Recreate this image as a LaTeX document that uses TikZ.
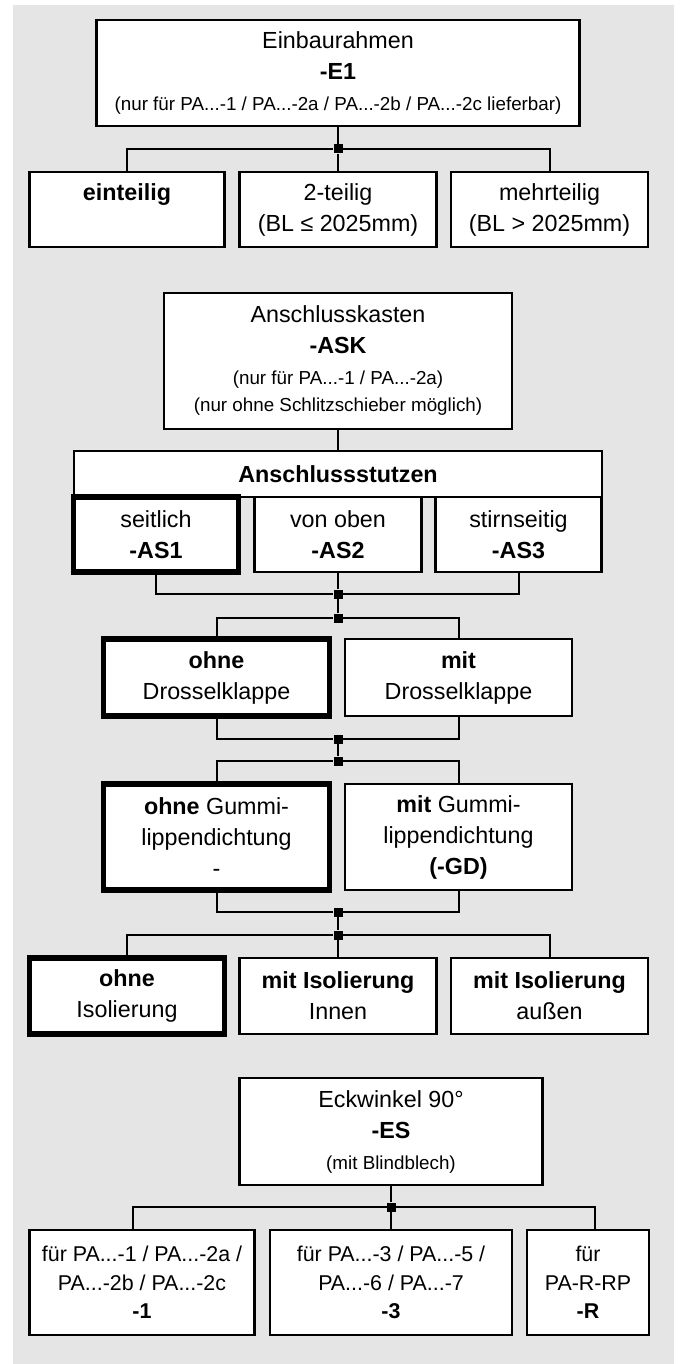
\documentclass[tikz,border=0pt]{standalone}
\usepackage{fontspec}
\setmainfont{Liberation Sans}
\definecolor{sfondo}{RGB}{229,229,229}
\newcommand{\klein}{\fontsize{18.8}{31}\selectfont}

\begin{document}
\begin{tikzpicture}[x=1pt, y=-1pt,
    box/.style={draw, fill=white, line width=2.4pt, align=center, inner sep=0pt, font=\fontsize{23.3}{31}\selectfont},
    scelta/.style={box, line width=5.5pt},
    basso/.style={box, font=\fontsize{21.4}{28.5}\selectfont, minimum height=105pt},
    nodo/.style={fill=black, minimum size=9pt, inner sep=0pt},
    filo/.style={line width=2pt}]
  \useasboundingbox (0,0) rectangle (680,1364);
  % Sfondo grigio
  \fill[sfondo] (13,5) rectangle (674,1364);

  % Einbaurahmen
  \node[box, minimum width=483pt, minimum height=106pt] (e1) at (338, 73) {Einbaurahmen\\\textbf{-E1}\\{\klein (nur für PA...-1 / PA...-2a / PA...-2b / PA...-2c lieferbar)}};
  \node[nodo] (j1) at (338, 149) {};
  \node[box, minimum width=195pt, minimum height=75pt] (r1) at (127, 209.5) {\textbf{einteilig}\\\phantom{(BL)}};
  \node[box, minimum width=197pt, minimum height=75pt] (r2) at (338, 209.5) {2-teilig\\(BL ≤ 2025mm)};
  \node[box, minimum width=197pt, minimum height=75pt] (r3) at (549.5, 209.5) {mehrteilig\\(BL > 2025mm)};

  % Anschlusskasten
  \node[box, minimum width=347.5pt, minimum height=136pt] (ask) at (338, 361) {Anschlusskasten\\\textbf{-ASK}\\{\klein (nur für PA...-1 / PA...-2a)}\\[-4pt]{\klein (nur ohne Schlitzschieber möglich)}};
  \node[box, minimum width=528pt, minimum height=46pt] (stutzen) at (338, 474) {\textbf{Anschlussstutzen}};
  \node[scelta, minimum width=165pt, minimum height=75pt] (s1) at (156, 534.5) {seitlich\\\textbf{-AS1}};
  \node[box, minimum width=167pt, minimum height=75pt] (s2) at (338, 534.5) {von oben\\\textbf{-AS2}};
  \node[box, minimum width=166pt, minimum height=75pt] (s3) at (518.5, 534.5) {stirnseitig\\\textbf{-AS3}};
  \node[nodo] (j2) at (338, 594) {};
  \node[nodo] (j3) at (338, 618) {};
  \node[scelta, minimum width=226pt, minimum height=77pt] (d1) at (216.5, 677.5) {\textbf{ohne}\\Drosselklappe};
  \node[box, minimum width=227pt, minimum height=77pt] (d2) at (458.5, 677.5) {\textbf{mit}\\Drosselklappe};
  \node[nodo] (j4) at (338, 739) {};
  \node[nodo] (j5) at (338, 761) {};
  \node[scelta, minimum width=226pt, minimum height=106pt] (g1) at (216.5, 837) {\textbf{ohne} Gummi-\\lippendichtung\\-};
  \node[box, minimum width=227pt, minimum height=106pt] (g2) at (458.5, 837) {\textbf{mit} Gummi-\\lippendichtung\\\textbf{(-GD)}};
  \node[nodo] (j6) at (338, 912) {};
  \node[nodo] (j7) at (338, 935) {};
  \node[scelta, minimum width=195pt, minimum height=76pt] (i1) at (127, 996) {\textbf{ohne}\\Isolierung};
  \node[box, minimum width=197pt, minimum height=76pt] (i2) at (338, 996) {\textbf{mit Isolierung}\\Innen};
  \node[box, minimum width=197pt, minimum height=76pt] (i3) at (549.5, 996) {\textbf{mit Isolierung}\\außen};

  % Eckwinkel
  \node[box, minimum width=303pt, minimum height=107pt] (es) at (391, 1131.5) {Eckwinkel 90°\\\textbf{-ES}\\{\klein (mit Blindblech)}};
  \node[nodo] (j8) at (391, 1207) {};
  \coordinate (ul) at (133, 1207);
  \coordinate (ur) at (595, 1207);
  \node[basso, minimum width=225pt] (p1) at (142, 1282.5) {für PA...-1 / PA...-2a /\\PA...-2b / PA...-2c\\\textbf{-1}};
  \node[basso, minimum width=241.5pt] (p2) at (391, 1282.5) {für PA...-3 / PA...-5 /\\PA...-6 / PA...-7\\\textbf{-3}};
  \node[basso, minimum width=121.5pt] (p3) at (588, 1282.5) {für\\PA-R-RP\\\textbf{-R}};

  % Collegamenti
  \draw[filo] (e1) -- (j1);
  \draw[filo] (r1.north) |- (j1) -| (r3.north);
  \draw[filo] (j1) -- (r2);
  \draw[filo] (ask) -- (stutzen);
  \draw[filo] (s1.south) |- (j2) -| (s3.south);
  \draw[filo] (s2) -- (j2);
  \draw[filo] (j2) -- (j3);
  \draw[filo] (d1.north) |- (j3) -| (d2.north);
  \draw[filo] (d1.south) |- (j4) -| (d2.south);
  \draw[filo] (j4) -- (j5);
  \draw[filo] (g1.north) |- (j5) -| (g2.north);
  \draw[filo] (g1.south) |- (j6) -| (g2.south);
  \draw[filo] (j6) -- (j7);
  \draw[filo] (i1.north) |- (j7) -| (i3.north);
  \draw[filo] (j7) -- (i2);
  \draw[filo] (es) -- (j8);
  \draw[filo] (p1.north -| ul) -- (ul) -- (ur) -- (p3.north -| ur);
  \draw[filo] (j8) -- (p2);
\end{tikzpicture}
\end{document}
